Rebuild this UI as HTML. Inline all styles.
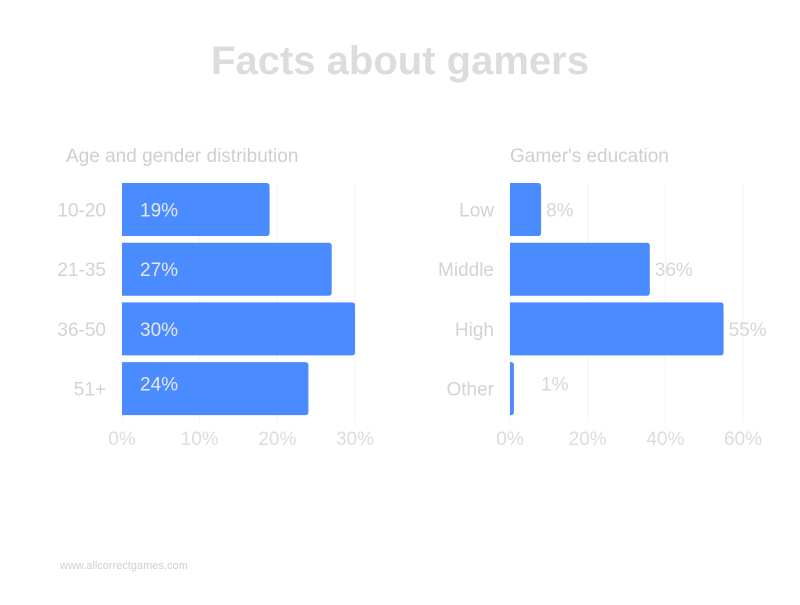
<!DOCTYPE html>
<html><head><meta charset="utf-8">
<style>
body{margin:0;background:#fff;font-family:"Liberation Sans",sans-serif;}
svg text{font-family:"Liberation Sans",sans-serif;}
</style></head>
<body>
<svg width="800" height="600" xmlns="http://www.w3.org/2000/svg">
<rect width="800" height="600" fill="#fff"/>
<text x="400" y="74" text-anchor="middle" font-size="40" font-weight="bold" fill="#dcdcdc">Facts about gamers</text>
<text x="66" y="162" font-size="19" fill="#cfcfcf">Age and gender distribution</text>
<text x="510" y="162" font-size="19" fill="#cfcfcf">Gamer's education</text>
<text x="60" y="569" font-size="11" fill="#cfcfcf">www.allcorrectgames.com</text>
<g id="c1"></g>
<g id="c2"></g>
</svg>
<script>
const ageCats=["10-20","21-35","36-50","51+"];
const ageVals=[19,27,30,24];
const ageTicks=[0,10,20,30];
const eduCats=["Low","Middle","High","Other"];
const eduVals=[8,36,55,1];
const eduTicks=[0,20,40,60];
const NS="http://www.w3.org/2000/svg";
function mk(t,a,p){const e=document.createElementNS(NS,t);for(const k in a)e.setAttribute(k,a[k]);p.appendChild(e);return e;}
function draw(g,cats,vals,ticks,x0,x1,maxV,inside,name){
  const xs=v=>x0+(v/maxV)*(x1-x0);
  const top=183,band=59.7,bh=53;
  ticks.forEach(t=>{
    const l=mk("line",{x1:xs(t),x2:xs(t),y1:top,y2:top+4*band,stroke:"#f3f3f3","stroke-width":1},g);
    
    
    const tx=mk("text",{x:xs(t),y:445,"text-anchor":"middle","font-size":19,fill:"#dcdcdc"},g);
    tx.textContent=t+"%";
    
    
  });
  cats.forEach((c,i)=>{
    const y=top+i*band;
    const r=mk("path",{d:`M${x0},${y}H${xs(vals[i])-3}Q${xs(vals[i])},${y} ${xs(vals[i])},${y+3}V${y+bh-3}Q${xs(vals[i])},${y+bh} ${xs(vals[i])-3},${y+bh}H${x0}Z`,fill:"#4a8cff"},g);
    
    
    const cl=mk("text",{x:x0-16,y:y+bh/2+7,"text-anchor":"end","font-size":19,fill:"#d3d3d3"},g);
    cl.textContent=c;
    
    
    const lx=inside?x0+18:Math.max(x0+31,xs(vals[i])+5);
    const lv=mk("text",{x:lx,y:y+bh/2+7-(i==3?5:0),"font-size":19,fill:(lx<xs(vals[i])?"#e8e8e8":"#d6d6d6")},g);
    lv.textContent=vals[i]+"%";
    
    
  });
}
draw(document.getElementById("c1"),ageCats,ageVals,ageTicks,122,355,30,true,"age");
draw(document.getElementById("c2"),eduCats,eduVals,eduTicks,510,743,60,false,"education");
</script>
</body></html>
